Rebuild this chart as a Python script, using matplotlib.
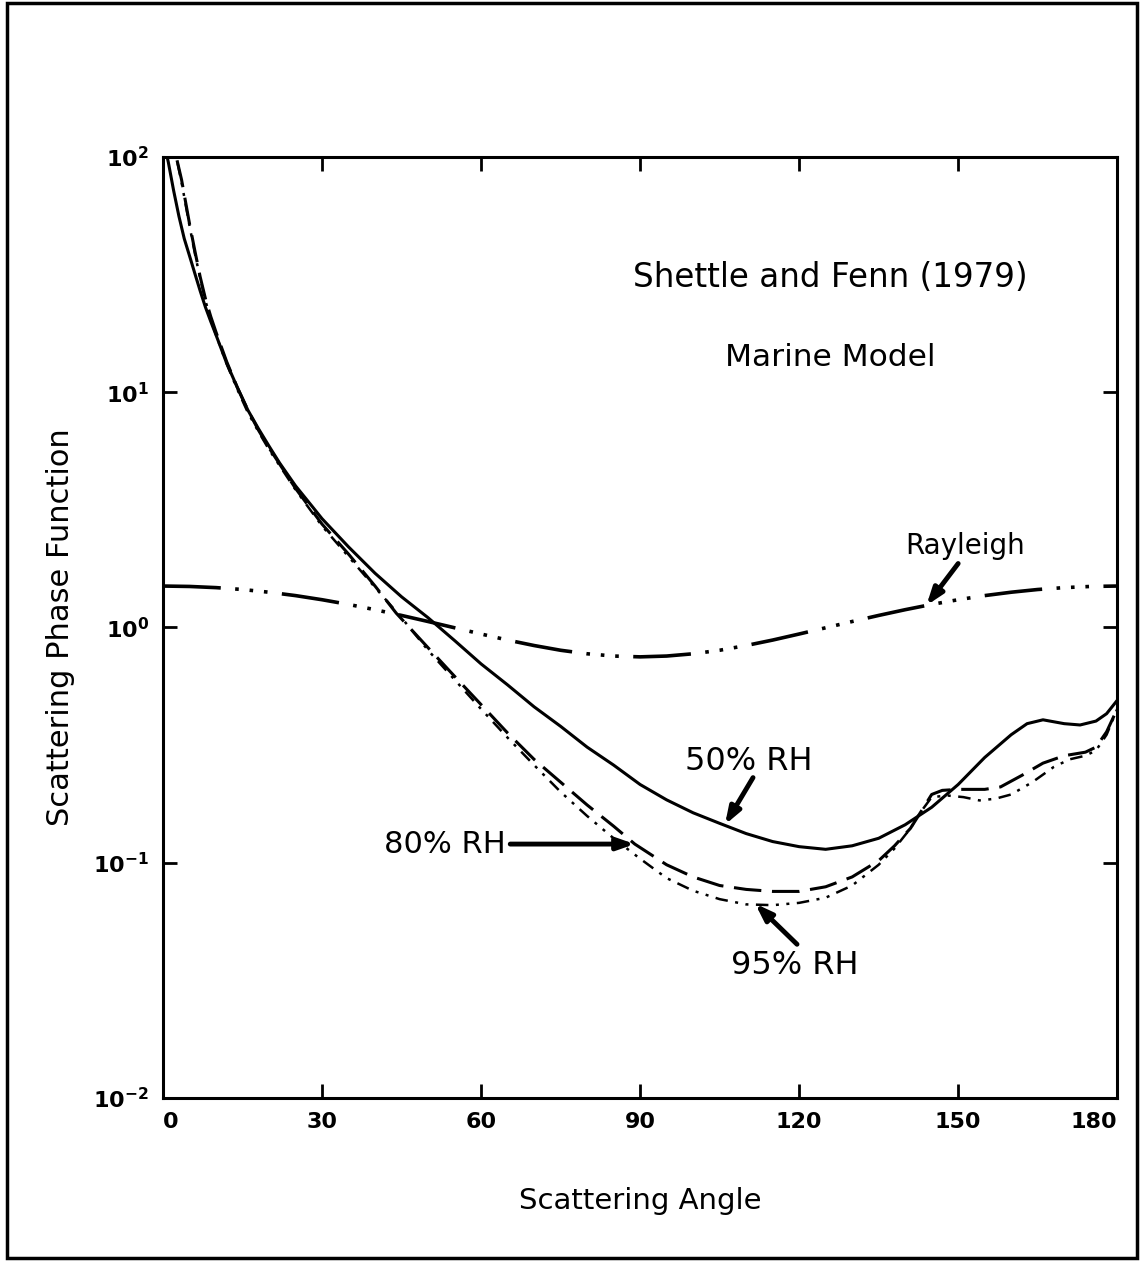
import numpy as np
import matplotlib
matplotlib.use("Agg")
import matplotlib.pyplot as plt
from matplotlib.patches import Rectangle

# Values (scattering angle in degrees)
rh50_angle = [0, 1, 2, 3, 4, 5, 6, 7, 8, 9, 10, 12, 14, 16, 18, 20, 22, 25, 28, 30,
              35, 40, 45, 50, 55, 60, 65, 70, 75, 80, 85, 90, 95, 100, 105, 110, 115,
              120, 125, 130, 135, 140, 145, 150, 155, 160, 163, 166, 170, 173, 176, 178, 180]
rh50_value = [120, 95, 72, 56, 45, 38, 32, 27, 23, 20, 17.5, 13.3, 10.5, 8.4, 7.0, 5.9,
              5.0, 4.0, 3.3, 2.9, 2.2, 1.7, 1.35, 1.1, 0.88, 0.70, 0.57, 0.46, 0.38,
              0.31, 0.26, 0.215, 0.185, 0.163, 0.147, 0.133, 0.123, 0.117, 0.114, 0.118,
              0.127, 0.145, 0.172, 0.215, 0.28, 0.35, 0.39, 0.405, 0.39, 0.385, 0.40,
              0.43, 0.49]

rh80_angle = [1.5, 2.5, 3.5, 5, 6, 7, 8, 9, 10, 12, 14, 16, 18, 20, 25, 30, 35, 40, 44,
              50, 55, 60, 65, 70, 75, 80, 85, 89, 95, 100, 105, 110, 115, 120, 125, 130,
              135, 138, 141, 143, 145, 147, 150, 155, 158, 162, 166, 170, 174, 176, 178, 180]
rh80_value = [140, 100, 80, 52, 40, 31, 25, 21, 18, 13.5, 10.5, 8.4, 6.9, 5.8, 3.9, 2.75,
              2.05, 1.5, 1.15, 0.82, 0.62, 0.47, 0.356, 0.275, 0.22, 0.176, 0.143, 0.12,
              0.098, 0.087, 0.080, 0.077, 0.0755, 0.0755, 0.079, 0.087, 0.102, 0.118,
              0.14, 0.165, 0.195, 0.203, 0.205, 0.205, 0.21, 0.235, 0.265, 0.285, 0.295,
              0.31, 0.36, 0.45]

rh95_angle = [1.5, 2.5, 3.5, 5, 6, 7, 8, 9, 10, 12, 14, 16, 18, 20, 25, 30, 35, 40, 45,
              50, 55, 60, 65, 70, 75, 80, 85, 90, 95, 100, 105, 110, 115, 120, 125, 130,
              135, 138, 141, 143, 145, 148, 151, 154, 157, 160, 164, 168, 171, 174, 176,
              178, 180]
rh95_value = [140, 100, 78, 51, 39, 30.5, 24.5, 20.5, 17.5, 13.2, 10.3, 8.2, 6.8, 5.7,
              3.85, 2.7, 2.0, 1.48, 1.1, 0.80, 0.60, 0.45, 0.34, 0.26, 0.20, 0.158,
              0.127, 0.104, 0.086, 0.076, 0.070, 0.0665, 0.066, 0.0675, 0.071, 0.080,
              0.098, 0.115, 0.14, 0.165, 0.19, 0.193, 0.19, 0.184, 0.187, 0.195, 0.22,
              0.255, 0.275, 0.285, 0.30, 0.35, 0.45]

rayleigh_angle = [0, 5, 10, 15, 20, 25, 30, 35, 40, 45, 50, 55, 60, 65, 70, 75, 80, 85,
                  90, 95, 100, 105, 110, 115, 120, 125, 130, 135, 140, 145, 150, 155,
                  160, 165, 170, 175, 180]
rayleigh_value = [1.50, 1.494, 1.477, 1.45, 1.412, 1.366, 1.312, 1.253, 1.19, 1.125,
                  1.06, 0.997, 0.938, 0.884, 0.838, 0.80, 0.773, 0.756, 0.75, 0.756,
                  0.773, 0.80, 0.838, 0.884, 0.938, 0.997, 1.06, 1.125, 1.19, 1.253,
                  1.312, 1.366, 1.412, 1.45, 1.477, 1.494, 1.50]

x_ticks = [0, 30, 60, 90, 120, 150, 180]
y_ticks = [1e-2, 1e-1, 1e0, 1e1, 1e2]
y_tick_labels = [r"$\mathbf{10^{-2}}$", r"$\mathbf{10^{-1}}$", r"$\mathbf{10^{0}}$",
                 r"$\mathbf{10^{1}}$", r"$\mathbf{10^{2}}$"]

plt.rcParams["font.family"] = ["DejaVu Sans"]
plt.rcParams["mathtext.fontset"] = "dejavusans"

fig = plt.figure(figsize=(11.4, 12.62), dpi=100)
ax = fig.add_axes([0.143, 0.130, 0.837, 0.7456])

lw = 2.2
ax.plot(rh50_angle, rh50_value, color="black", lw=lw, solid_joinstyle="round")
ax.plot(rh80_angle, rh80_value, color="black", lw=lw, dashes=(9, 3.5))
ax.plot(rh95_angle, rh95_value, color="black", lw=lw - 0.4, dashes=(5, 3, 1.2, 3, 1.2, 3))
ax.plot(rayleigh_angle, rayleigh_value, color="black", lw=lw + 0.4,
        dashes=(16, 4, 1.0, 3, 1.0, 3, 1.0, 4))

ax.set_yscale("log")
ax.set_xlim(0, 180)
ax.set_ylim(1e-2, 1e2)
ax.set_xticks(x_ticks)
xlabels = ax.set_xticklabels([str(t) for t in x_ticks], fontsize=16, fontweight="bold")
xlabels[0].set_horizontalalignment("left")
xlabels[-1].set_horizontalalignment("right")
ax.set_yticks(y_ticks)
ax.set_yticklabels(y_tick_labels, fontsize=16)
ax.minorticks_off()
ax.tick_params(direction="in", length=10, width=2, top=True, right=True, pad=10)
for s in ax.spines.values():
    s.set_linewidth(2.2)

ax.set_xlabel("Scattering Angle", fontsize=21, labelpad=40)
ax.set_ylabel("Scattering Phase Function", fontsize=22, labelpad=13)

ax.text(125.8, 30.8, "Shettle and Fenn (1979)", fontsize=23.5, ha="center", va="center")
ax.text(125.8, 14.1, "Marine Model", fontsize=22.5, ha="center", va="center")

arrow = dict(arrowstyle="-|>,head_length=1.0,head_width=0.35", color="black", lw=3.5,
             shrinkA=0, shrinkB=0)
ax.text(151.3, 2.23, "Rayleigh", fontsize=20, ha="center", va="center")
ax.annotate("", xy=(144, 1.24), xytext=(150, 1.87), arrowprops=arrow)

ax.text(110.4, 0.27, "50% RH", fontsize=23, ha="center", va="center")
ax.annotate("", xy=(106, 0.145), xytext=(111.3, 0.23), arrowprops=arrow)

ax.text(53.2, 0.12, "80% RH", fontsize=22, ha="center", va="center")
ax.annotate("", xy=(89, 0.12), xytext=(65.5, 0.12), arrowprops=arrow)

ax.text(119.2, 0.0365, "95% RH", fontsize=23, ha="center", va="center")
ax.annotate("", xy=(111.7, 0.067), xytext=(119.6, 0.045), arrowprops=arrow)

# page frame
fig.patches.append(Rectangle((0.006, 0.003), 0.991, 0.995, transform=fig.transFigure,
                             fill=False, edgecolor="black", lw=2.5))

fig.savefig("out.png", dpi=100)
